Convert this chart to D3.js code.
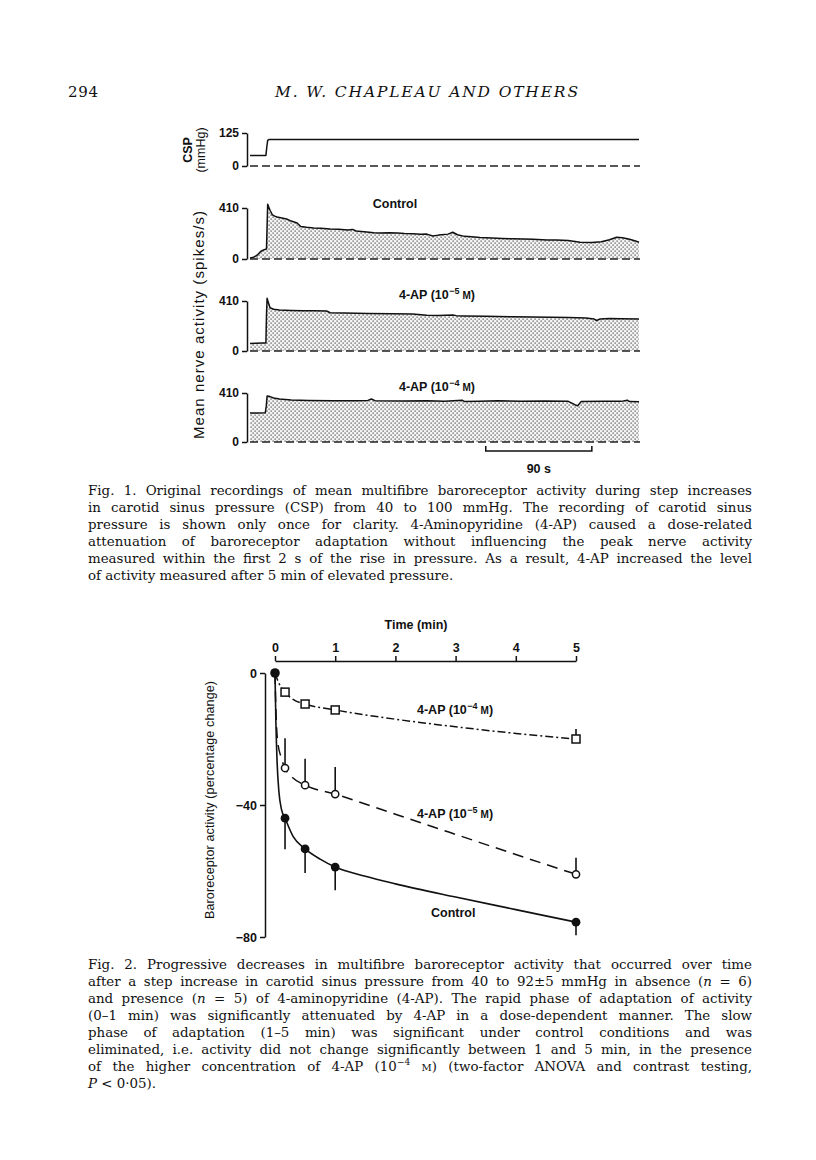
<!DOCTYPE html>
<html><head><meta charset="utf-8">
<script src="https://cdn.jsdelivr.net/npm/d3@7"></script>
<style>
body{margin:0;background:#fff}
svg{display:block}
.cap{font-family:"DejaVu Serif",serif;font-size:13.4px;fill:#111}
.hdr{font-family:"DejaVu Serif",serif;fill:#111}
.lbl{font-family:"Liberation Sans",Arial,sans-serif;font-weight:bold;font-size:12px;fill:#111}
.ttl{font-family:"Liberation Sans",Arial,sans-serif;font-size:12.5px;fill:#111}
.axis text{font-family:"Liberation Sans",Arial,sans-serif;font-weight:bold;font-size:12px;fill:#111}
.axis path,.axis line{stroke:#111;stroke-width:1.5}
</style>
</head><body>
<svg id="page" width="816" height="1160"></svg>
<script>
// ---------------- DATA ----------------
// Fig. 1 : time (s), value
const cspTrace = [[0,40],[13.5,40],[14.2,70],[15,97],[16,100],[330,100]];
const controlTrace = [[0,8],[3,14],[6,30],[9,60],[12,75],[14,80],[14.6,300],[15,440],[16,415],[17,392],[19,355],[21,345],[23,338],[27,330],[31,322],[35,305],[40,290],[43,262],[48,255],[54,250],[60,248],[68,242],[75,240],[83,233],[87,238],[90,225],[99,217],[105,212],[110,210],[118,212],[125,209],[131,205],[138,203],[145,198],[150,200],[155,185],[160,192],[168,200],[172,215],[176,195],[182,182],[188,178],[195,172],[205,168],[214,165],[223,162],[232,160],[240,158],[252,153],[260,152],[270,148],[280,135],[290,132],[298,138],[305,155],[311,175],[316,170],[322,158],[327,145],[330,135]];
const ap5Trace = [[0,62],[5,64],[10,66],[13.5,66],[14,300],[14.5,432],[15.5,400],[17,355],[20,342],[25,336],[35,333],[45,331],[55,330],[65,328],[68,314],[80,312],[100,308],[120,306],[138,303],[150,294],[160,292],[172,296],[175,290],[181,288],[200,285],[223,280],[240,278],[255,276],[270,274],[285,271],[292,262],[294,250],[297,262],[305,266],[315,264],[330,262]];
const ap4Trace = [[0,243],[6,243],[13,245],[13.8,300],[14.5,385],[17,380],[20,368],[25,360],[35,352],[50,348],[70,346],[90,345],[100,348],[103,360],[106,346],[130,343],[150,345],[165,342],[180,350],[182,338],[195,342],[210,345],[230,341],[250,343],[270,340],[276,310],[278,304],[281,338],[300,342],[315,340],[320,350],[322,338],[330,336]];
const scaleBar = [200, 290];          // 90 s
const cspTicks = [0, 125];
const nerveTicks = [0, 410];

// Fig. 2 : time (min), % change
const timeMin = [0, 1/6, 0.5, 1, 5];
const controlMean = [0, -44, -53.3, -58.8, -75.5];
const controlSE   = [0, 9.4, 7.3, 7, 4];
const ap5Mean = [0, -28.8, -34, -36.7, -61];
const ap5SE   = [0, 9, 8, 8.2, 5];
const ap4Mean = [0, -5.8, -9.4, -11.2, -20];
const ap4SE   = [0, 0, 0, 0, 3];
const controlFit = [[0,0],[0.015,-15],[0.035,-27],[0.065,-36],[0.11,-41.5],[1/6,-44],[0.3,-49.5],[0.5,-53.3],[0.75,-56.4],[1,-58.8],[1.5,-61.6],[2,-63.9],[3,-67.9],[4,-71.7],[5,-75.5]];
const ap5Fit = [[0,0],[0.01,-8],[0.04,-20],[0.1,-25.5],[1/6,-28.8],[0.3,-31.8],[0.5,-34],[1,-36.7],[2,-42.8],[3,-48.9],[4,-55],[5,-61]];
const ap4Fit = [[0,0],[0.05,-2.5],[1/6,-5.8],[0.3,-8],[0.5,-9.4],[1,-11.2],[2,-14],[3,-16.3],[4,-18.3],[5,-20]];
const timeTicks = [0,1,2,3,4,5];
const pctTicks = [0,-40,-80];

// Text
const header = ["294", "M. W. CHAPLEAU AND OTHERS"];
const fig1Caption = [
 "Fig. 1. Original recordings of mean multifibre baroreceptor activity during step increases",
 "in carotid sinus pressure (CSP) from 40 to 100 mmHg. The recording of carotid sinus",
 "pressure is shown only once for clarity. 4-Aminopyridine (4-AP) caused a dose-related",
 "attenuation of baroreceptor adaptation without influencing the peak nerve activity",
 "measured within the first 2 s of the rise in pressure. As a result, 4-AP increased the level",
 "of activity measured after 5 min of elevated pressure."
];
const fig2Caption = [
 "Fig. 2. Progressive decreases in multifibre baroreceptor activity that occurred over time",
 "after a step increase in carotid sinus pressure from 40 to 92±5 mmHg in absence (_n_ = 6)",
 "and presence (_n_ = 5) of 4-aminopyridine (4-AP). The rapid phase of adaptation of activity",
 "(0–1 min) was significantly attenuated by 4-AP in a dose-dependent manner. The slow",
 "phase of adaptation (1–5 min) was significant under control conditions and was",
 "eliminated, i.e. activity did not change significantly between 1 and 5 min, in the presence",
 "of the higher concentration of 4-AP (10^−4^ ~M~) (two-factor ANOVA and contrast testing,",
 "_P_ < 0·05)."
];

// ---------------- DRAW ----------------
const svg = d3.select("#page");
svg.append("rect").attr("width",816).attr("height",1160).attr("fill","#fff");
const defs = svg.append("defs");
const pat = defs.append("pattern").attr("id","stip").attr("patternUnits","userSpaceOnUse").attr("width",4).attr("height",4);
pat.append("rect").attr("width",4).attr("height",4).attr("fill","#f4f4f4");
pat.append("rect").attr("x",0.5).attr("y",0.5).attr("width",1.2).attr("height",1.2).attr("fill","#444");
pat.append("rect").attr("x",2.5).attr("y",2.5).attr("width",1.2).attr("height",1.2).attr("fill","#444");

// header
svg.append("text").attr("class","hdr").attr("x",68).attr("y",97).style("font-size","15px").attr("textLength",30).text(header[0]);
svg.append("text").attr("class","hdr").attr("x",275).attr("y",97).style("font-size","15.5px").style("font-style","italic")
  .attr("textLength",303).attr("lengthAdjust","spacing").text(header[1]);

// Fig 1
const xT = d3.scaleLinear([0,330],[250,639]);
const f1 = svg.append("g");
function panel(trace, yTop, yBot, ticks, vmax, fill){
  const y = d3.scaleLinear([0,vmax],[yBot,yTop]);
  if(fill){
    f1.append("path").datum(trace).attr("fill","url(#stip)")
      .attr("d", d3.area().x(d=>xT(d[0])).y0(y(0)).y1(d=>y(d[1])));
  }
  f1.append("line").attr("x1",xT(0)).attr("x2",xT(330)+1).attr("y1",y(0)).attr("y2",y(0))
    .attr("stroke","#222").attr("stroke-width",1.3).attr("stroke-dasharray","8,4");
  f1.append("path").datum(trace).attr("fill","none").attr("stroke","#111").attr("stroke-width",1.5)
    .attr("stroke-linejoin","round").attr("d", d3.line().x(d=>xT(d[0])).y(d=>y(d[1])));
  f1.append("g").attr("class","axis").attr("transform","translate(247,0)")
    .call(d3.axisLeft(y).tickValues(ticks).tickSize(5).tickSizeOuter(0).tickPadding(3).tickFormat(d3.format("d")));
  return y;
}
panel(cspTrace, 133, 166, cspTicks, 125, false);
panel(controlTrace, 208, 259, nerveTicks, 410, true);
panel(ap5Trace, 301, 351, nerveTicks, 410, true);
panel(ap4Trace, 393, 442, nerveTicks, 410, true);
f1.selectAll(".axis .domain").attr("stroke-width",1.6);

// scale bar
const sbY = 451;
f1.append("path").attr("fill","none").attr("stroke","#111").attr("stroke-width",1.5)
  .attr("d",`M${xT(scaleBar[0])},${sbY-5}V${sbY}H${xT(scaleBar[1])}V${sbY-5}`);
f1.append("text").attr("class","lbl").attr("text-anchor","middle").attr("x",(xT(scaleBar[0])+xT(scaleBar[1]))/2).attr("y",473).style("font-size","12.5px").text("90 s");

function apLabel(g, x, y, exp, anchor){
  const t = g.append("text").attr("class","lbl").attr("x",x).attr("y",y).attr("text-anchor",anchor).style("font-size","12.5px");
  t.append("tspan").text("4-AP (10");
  t.append("tspan").attr("dy",-5).attr("dx",0.5).style("font-size","9px").text(exp);
  t.append("tspan").attr("dy",5).attr("dx",3).style("font-size","10px").text("M");
  t.append("tspan").text(")");
}
f1.append("text").attr("class","lbl").attr("x",395).attr("y",208).attr("text-anchor","middle").style("font-size","12.5px").text("Control");
apLabel(f1, 437, 299, "−5", "middle");
apLabel(f1, 437, 391, "−4", "middle");

// Fig 1 axis titles
f1.append("text").attr("class","lbl").attr("transform","translate(192,150) rotate(-90)").attr("text-anchor","middle").style("font-size","12.5px").text("CSP");
f1.append("text").attr("class","ttl").attr("transform","translate(205,150) rotate(-90)").attr("text-anchor","middle").text("(mmHg)");
f1.append("text").attr("class","ttl").attr("transform","translate(204,325) rotate(-90)").attr("text-anchor","middle")
  .attr("textLength",228).attr("lengthAdjust","spacing").style("font-size","15px").text("Mean nerve activity (spikes/s)");

// Fig 2
const f2 = svg.append("g");
const xM = d3.scaleLinear([0,5],[275,576]);
const yP = d3.scaleLinear([0,-80],[673,937]);
f2.append("g").attr("class","axis").attr("transform","translate(0,661)")
  .call(d3.axisTop(xM).tickValues(timeTicks).tickSize(5).tickSizeOuter(0).tickPadding(4).tickFormat(d3.format("d")));
f2.append("g").attr("class","axis").attr("transform","translate(265,0)")
  .call(d3.axisLeft(yP).tickValues(pctTicks).tickSize(5).tickSizeOuter(0).tickPadding(3)
    .tickFormat(d=> d===0 ? "0" : "−"+Math.abs(d)));
f2.selectAll(".axis text").style("font-size","12.5px");
f2.append("text").attr("class","lbl").attr("x",416).attr("y",629).attr("text-anchor","middle").style("font-size","12.5px").text("Time (min)");
f2.append("text").attr("class","ttl").attr("transform","translate(214,800) rotate(-90)").attr("text-anchor","middle")
  .attr("textLength",238).attr("lengthAdjust","spacing").style("font-size","12.5px").text("Baroreceptor activity (percentage change)");

const fitLine = d3.line().x(d=>xM(d[0])).y(d=>yP(d[1])).curve(d3.curveMonotoneX);
f2.append("path").datum(ap4Fit).attr("fill","none").attr("stroke","#111").attr("stroke-width",1.5)
  .attr("stroke-dasharray","8,3,2,3").attr("d",fitLine);
f2.append("path").datum(ap5Fit).attr("fill","none").attr("stroke","#111").attr("stroke-width",1.5)
  .attr("stroke-dasharray","11,7").attr("d",fitLine);
f2.append("path").datum(controlFit).attr("fill","none").attr("stroke","#111").attr("stroke-width",1.6).attr("d",fitLine);

function errBars(mean, se, dir){
  timeMin.forEach((t,i)=>{
    if(se[i]>0){
      f2.append("line").attr("x1",xM(t)).attr("x2",xM(t)).attr("y1",yP(mean[i])).attr("y2",yP(mean[i]+dir*se[i]))
        .attr("stroke","#111").attr("stroke-width",1.6);
    }
  });
}
errBars(controlMean, controlSE, -1);
errBars(ap5Mean, ap5SE, 1);
errBars(ap4Mean, ap4SE, 1);

timeMin.forEach((t,i)=>{
  if(i===0) return;
  f2.append("rect").attr("x",xM(t)-4).attr("y",yP(ap4Mean[i])-4).attr("width",8).attr("height",8)
    .attr("fill","#fff").attr("stroke","#111").attr("stroke-width",1.5);
  f2.append("circle").attr("cx",xM(t)).attr("cy",yP(ap5Mean[i])).attr("r",3.6)
    .attr("fill","#fff").attr("stroke","#111").attr("stroke-width",1.5);
});
timeMin.forEach((t,i)=>{
  f2.append("circle").attr("cx",xM(t)).attr("cy",yP(controlMean[i])).attr("r",i===0?4.8:4.4).attr("fill","#111");
});
f2.append("text").attr("class","lbl").attr("x",431).attr("y",917).style("font-size","12.5px").text("Control");
apLabel(f2, 417, 714, "−4", "start");
apLabel(f2, 417, 818, "−5", "start");

// Captions
function renderLine(str, x, y, width, justify){
  const t = svg.append("text").attr("class","cap").attr("x",x).attr("y",y);
  const parts = str.split(/(_[^_]+_|\^[^^]+\^|~[^~]+~)/).filter(s=>s.length);
  let pendingDown = 0;
  parts.forEach(p=>{
    const ts = t.append("tspan");
    if(pendingDown){ ts.attr("dy",pendingDown); pendingDown=0; }
    if(p[0]==="_"){ ts.text(p.slice(1,-1)).style("font-style","italic"); }
    else if(p[0]==="^"){ ts.text(p.slice(1,-1)).attr("dy",-6).style("font-size","9px"); pendingDown=6; }
    else if(p[0]==="~"){ ts.text(p.slice(1,-1)).style("font-size","10px"); }
    else ts.text(p);
  });
  if(justify){
    let w = t.node().getComputedTextLength();
    const n = (str.match(/ /g)||[]).length;
    const nch = t.text().length;
    const minGap = n*1.5;
    if(w + minGap > width){
      t.style("letter-spacing", ((width - minGap - w)/nch) + "px");
      w = t.node().getComputedTextLength();
    }
    if(n>0) t.attr("word-spacing", (width-w)/n);
  }
}
fig1Caption.forEach((l,i)=>renderLine(l, 88, 495+i*17, 664, i<fig1Caption.length-1));
fig2Caption.forEach((l,i)=>renderLine(l, 88, 969+i*17, 664, i<fig2Caption.length-1));
</script>
</body></html>
